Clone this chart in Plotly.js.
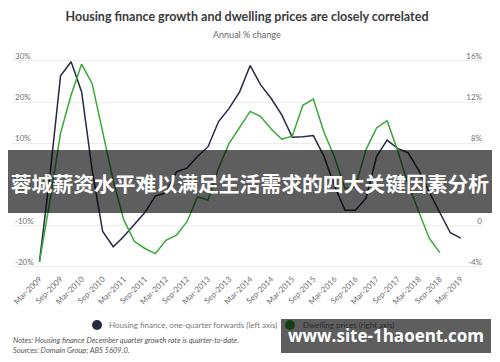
<!DOCTYPE html>
<html>
<head>
<meta charset="utf-8">
<script src="https://cdn.plot.ly/plotly-3.0.1.min.js"></script>
<style>
  html, body { margin: 0; padding: 0; background: #fff; }
  #wrap { position: relative; width: 500px; height: 362px; overflow: hidden; }
  #chart { width: 500px; height: 362px; }
  .overlay { position: absolute; background: rgba(0,0,0,0.63); color: #fff; font-weight: bold; white-space: nowrap; text-align: center; z-index: 5; }
  #banner { left: 8px; top: 150px; width: 484px; height: 63px; line-height: 66px; font-size: 20.8px; font-family: "Noto Sans CJK SC", sans-serif; }
  #mark { left: 281px; top: 319px; width: 210px; height: 34px; line-height: 34px; font-size: 17px; font-family: "Open Sans", sans-serif; }
  .rlab { position: absolute; right: 18px; height: 10px; line-height: 10px; font-size: 8px; font-family: Lato, "Open Sans", sans-serif; color: #707070; white-space: nowrap; z-index: 2; }
</style>
</head>
<body>
<div id="wrap">
  <div id="chart"></div>
  <div id="banner" class="overlay">蓉城薪资水平难以满足生活需求的四大关键因素分析</div>
  <div id="mark" class="overlay">www.site-1haoent.com</div>
</div>
<script>
const quarters = [
  "Mar-2009","Jun-2009","Sep-2009","Dec-2009",
  "Mar-2010","Jun-2010","Sep-2010","Dec-2010",
  "Mar-2011","Jun-2011","Sep-2011","Dec-2011",
  "Mar-2012","Jun-2012","Sep-2012","Dec-2012",
  "Mar-2013","Jun-2013","Sep-2013","Dec-2013",
  "Mar-2014","Jun-2014","Sep-2014","Dec-2014",
  "Mar-2015","Jun-2015","Sep-2015","Dec-2015",
  "Mar-2016","Jun-2016","Sep-2016","Dec-2016",
  "Mar-2017","Jun-2017","Sep-2017","Dec-2017",
  "Mar-2018","Jun-2018","Sep-2018","Dec-2018",
  "Mar-2019"
];
const xTickLabels = ["Mar-2009","Sep-2009","Mar-2010","Sep-2010","Mar-2011","Sep-2011","Mar-2012","Sep-2012","Mar-2013","Sep-2013","Mar-2014","Sep-2014","Mar-2015","Sep-2015","Mar-2016","Sep-2016","Mar-2017","Sep-2017","Mar-2018","Sep-2018","Mar-2019"];

// Housing finance, one-quarter forwards (left axis), annual % change
const housingFinance = [
  -18.7, 2.5, 26.4, 29.8,
  22.5, 3.5, -11.4, -15.1,
  -12.6, -9.6, -6.8, -2.8,
  -2.0, 3.1, 4.0, 6.8,
  9.2, 15.3, 18.5, 22.5,
  28.9, 24.2, 20.9, 16.9,
  11.5, 11.6, 11.9, 6.9,
  -0.3, -6.2, -6.2, -3.3,
  6.8, 10.8, 8.8, 7.7,
  3.5, -1.8, -6.6, -11.7,
  -13.0
];
// Dwelling prices (right axis), annual % change
const dwellingPrices = [
  -3.5, 2.5, 9.0, 12.7,
  15.7, 13.8, 9.1, 4.4,
  0.6, -1.5, -2.2, -2.7,
  -1.4, -0.9, 0.4, 2.8,
  2.5, 5.6, 8.0, 9.6,
  11.1, 10.6, 9.4, 8.4,
  8.7, 11.7, 12.3, 9.1,
  6.7, 3.6, 3.8, 7.4,
  9.5, 10.2, 7.3, 4.0,
  1.3, -1.2, -2.6, null,
  null
];

const leftTicks = [-20, -10, 0, 10, 20, 30];
const leftTickText = ["-20%", "-10%", "0%", "10%", "20%", "30%"];
const rightTicks = [-4, 0, 4, 8, 12, 16];
const rightTickText = ["-4%", "0", "4%", "8%", "12%", "16%"];

const seriesNames = ["Housing finance, one-quarter forwards (left axis)", "Dwelling prices (right axis)"];
const seriesColors = ["#252a42", "#38a836"];

const titleText = "Housing finance growth and dwelling prices are closely correlated";
const subtitleText = "Annual % change";
const notesText = "Notes: Housing finance December quarter growth rate is quarter-to-date.<br>Sources: Domain Group; ABS 5609.0.";

const FONT = "Lato, 'Open Sans', sans-serif";

const traces = [
  {
    x: quarters, y: housingFinance, type: "scatter", mode: "lines",
    name: seriesNames[0], yaxis: "y", line: { color: seriesColors[0], width: 1.5 },
    showlegend: false, hoverinfo: "skip"
  },
  {
    x: quarters, y: dwellingPrices, type: "scatter", mode: "lines",
    name: seriesNames[1], yaxis: "y2", line: { color: seriesColors[1], width: 1.5 },
    showlegend: false, hoverinfo: "skip", connectgaps: false
  }
];

// plot area: x 12..482 px, y 45..273 px (gridlines 30%/16% at 61, -20%/-4% at 267)
const L = 12, R = 18, T = 45, B = 89, W = 500, H = 362;
const pw = W - L - R, ph = H - T - B;
const px = v => (v - L) / pw;
const py = v => (H - B - v) / ph;

const tickFont = { family: FONT, size: 8, color: "#707070" };

const layout = {
  width: W, height: H,
  margin: { l: L, r: R, t: T, b: B, pad: 0 },
  paper_bgcolor: "#ffffff",
  plot_bgcolor: "#ffffff",
  showlegend: false,
  font: { family: FONT, color: "#777" },
  title: {
    text: titleText,
    x: 0.5, xref: "paper", xanchor: "center",
    y: 1 - 17 / H, yref: "container", yanchor: "middle",
    font: { family: FONT, size: 12.5, color: "#3a3a3a", weight: "bold" }
  },
  xaxis: {
    type: "category",
    range: [-2.61, 42.01],
    tickmode: "array",
    tickvals: xTickLabels,
    ticktext: xTickLabels,
    tickangle: -45,
    ticklabelstandoff: -1,
    tickfont: tickFont,
    showgrid: false, showline: false, zeroline: false, ticks: ""
  },
  yaxis: {
    range: [-21.46, 33.88],
    tickmode: "array",
    tickvals: leftTicks,
    ticktext: leftTickText,
    ticklabelposition: "inside",
    ticklabelshift: -5,
    tickfont: tickFont,
    gridcolor: "#ececec", gridwidth: 1,
    zeroline: false, showline: false, ticks: ""
  },
  yaxis2: {
    overlaying: "y", side: "right",
    range: [-4.58, 17.55],
    tickmode: "array",
    tickvals: rightTicks,
    showticklabels: false,
    showgrid: false, zeroline: false, showline: false, ticks: ""
  },
  shapes: [
    { type: "circle", xref: "paper", yref: "paper", xsizemode: "pixel", ysizemode: "pixel",
      xanchor: px(97), yanchor: py(325), x0: -5, x1: 5, y0: -5, y1: 5,
      fillcolor: seriesColors[0], line: { width: 0 } },
    { type: "circle", xref: "paper", yref: "paper", xsizemode: "pixel", ysizemode: "pixel",
      xanchor: px(290), yanchor: py(325), x0: -5, x1: 5, y0: -5, y1: 5,
      fillcolor: seriesColors[1], line: { width: 0 } }
  ],
  annotations: [
    { text: subtitleText, xref: "paper", yref: "paper", x: 0.5, y: py(34.5),
      xanchor: "center", yanchor: "middle", showarrow: false,
      font: { family: FONT, size: 9, color: "#666" } },
    { text: seriesNames[0], xref: "paper", yref: "paper", x: px(107), y: py(325),
      xanchor: "left", yanchor: "middle", showarrow: false,
      font: { family: FONT, size: 8, color: "#777" } },
    { text: seriesNames[1], xref: "paper", yref: "paper", x: px(301), y: py(325),
      xanchor: "left", yanchor: "middle", showarrow: false,
      font: { family: FONT, size: 8, color: "#777" } },
    { text: notesText, xref: "paper", yref: "paper", x: px(11), y: py(345),
      xanchor: "left", yanchor: "middle", align: "left", showarrow: false,
      font: { family: FONT, size: 7.5, color: "#555", style: "italic" } }
  ]
};

Plotly.newPlot("chart", traces, layout, { displayModeBar: false, staticPlot: true }).then(gd => {
  // right-axis labels positioned from Plotly's own y2 scale
  const ax = gd._fullLayout.yaxis2;
  const wrap = document.getElementById("wrap");
  const banner = document.getElementById("banner");
  rightTicks.forEach((v, i) => {
    const yPix = ax._offset + ax.l2p(v);
    const d = document.createElement("div");
    d.className = "rlab";
    d.textContent = rightTickText[i];
    d.style.top = (yPix - 5 - 5) + "px";
    wrap.insertBefore(d, banner);
  });
});
</script>
</body>
</html>
